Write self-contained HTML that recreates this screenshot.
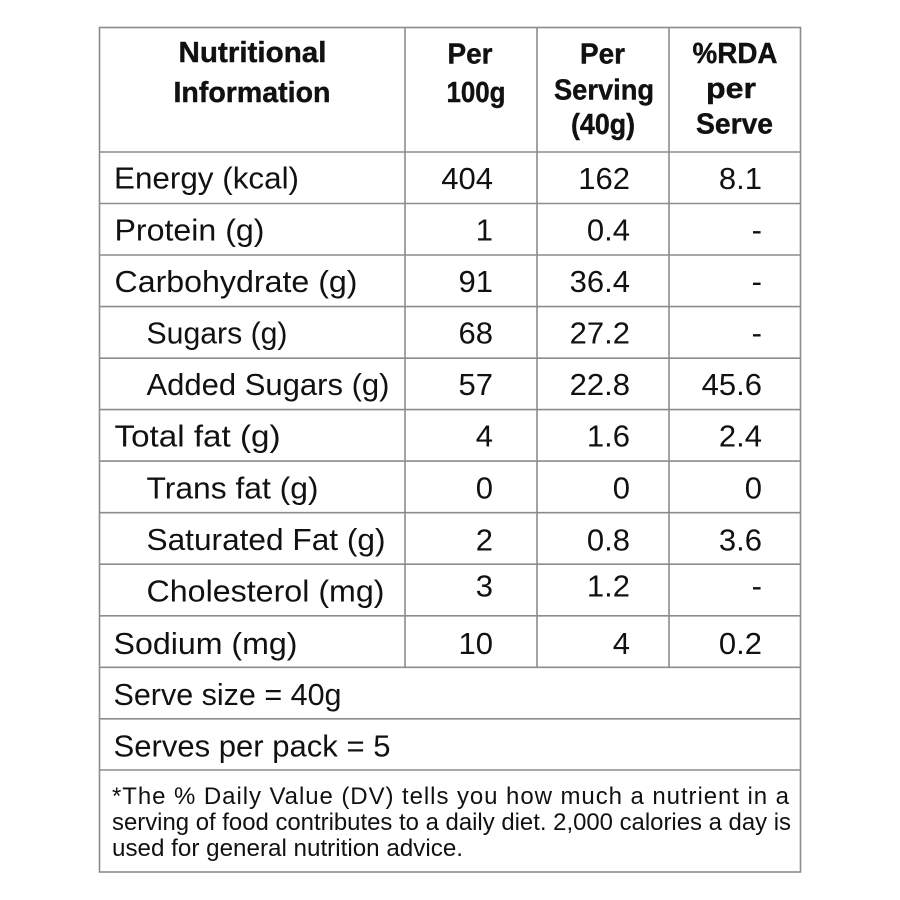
<!DOCTYPE html>
<html>
<head>
<meta charset="utf-8">
<style>
  html, body { margin: 0; padding: 0; background: #ffffff; }
  svg { display: block; }
  text { font-family: "Liberation Sans", sans-serif; fill: #111; }
  .b { font-size: 31px; }
  .h { font-size: 29px; font-weight: bold; stroke: #111; stroke-width: 0.4px; }
  .f { font-size: 24px; }
</style>
</head>
<body>
<svg width="900" height="900" viewBox="0 0 900 900" xmlns="http://www.w3.org/2000/svg">
  <rect x="0" y="0" width="900" height="900" fill="#ffffff"/>

  <!-- grid lines -->
  <g stroke="#8c8c8c" stroke-width="1.6" fill="none">
    <rect x="99.5" y="27.5" width="701" height="844.5"/>
    <line x1="405" y1="27.5" x2="405" y2="667.3"/>
    <line x1="537" y1="27.5" x2="537" y2="667.3"/>
    <line x1="669" y1="27.5" x2="669" y2="667.3"/>
    <line x1="99.5" y1="152" x2="800.5" y2="152"/>
    <line x1="99.5" y1="203.5" x2="800.5" y2="203.5"/>
    <line x1="99.5" y1="255" x2="800.5" y2="255"/>
    <line x1="99.5" y1="306.6" x2="800.5" y2="306.6"/>
    <line x1="99.5" y1="358.2" x2="800.5" y2="358.2"/>
    <line x1="99.5" y1="409.6" x2="800.5" y2="409.6"/>
    <line x1="99.5" y1="461.1" x2="800.5" y2="461.1"/>
    <line x1="99.5" y1="512.7" x2="800.5" y2="512.7"/>
    <line x1="99.5" y1="564.2" x2="800.5" y2="564.2"/>
    <line x1="99.5" y1="615.8" x2="800.5" y2="615.8"/>
    <line x1="99.5" y1="667.3" x2="800.5" y2="667.3"/>
    <line x1="99.5" y1="718.8" x2="800.5" y2="718.8"/>
    <line x1="99.5" y1="770" x2="800.5" y2="770"/>
  </g>

  <!-- header -->
  <text class="h" x="178.5" y="62" textLength="148" lengthAdjust="spacingAndGlyphs">Nutritional</text>
  <text class="h" x="173.5" y="102" textLength="157" lengthAdjust="spacingAndGlyphs">Information</text>

  <text class="h" x="447.5" y="63.5" textLength="45" lengthAdjust="spacingAndGlyphs">Per</text>
  <text class="h" x="446.5" y="102" textLength="59" lengthAdjust="spacingAndGlyphs">100g</text>

  <text class="h" x="580" y="63.5" textLength="45" lengthAdjust="spacingAndGlyphs">Per</text>
  <text class="h" x="554" y="99.5" textLength="100" lengthAdjust="spacingAndGlyphs">Serving</text>
  <text class="h" x="571" y="134" textLength="64" lengthAdjust="spacingAndGlyphs">(40g)</text>

  <text class="h" x="692.5" y="63" textLength="85" lengthAdjust="spacingAndGlyphs">%RDA</text>
  <text class="h" x="706" y="98" textLength="50" lengthAdjust="spacingAndGlyphs">per</text>
  <text class="h" x="696" y="133.5" textLength="77" lengthAdjust="spacingAndGlyphs">Serve</text>

  <!-- labels -->
  <text class="b" x="114" y="188.5" textLength="185" lengthAdjust="spacingAndGlyphs">Energy (kcal)</text>
  <text class="b" x="114.5" y="240.5" textLength="150" lengthAdjust="spacingAndGlyphs">Protein (g)</text>
  <text class="b" x="114.5" y="292" textLength="243" lengthAdjust="spacingAndGlyphs">Carbohydrate (g)</text>
  <text class="b" x="146.5" y="343.5" textLength="141" lengthAdjust="spacingAndGlyphs">Sugars (g)</text>
  <text class="b" x="146.5" y="395" textLength="243" lengthAdjust="spacingAndGlyphs">Added Sugars (g)</text>
  <text class="b" x="114.5" y="446.5" textLength="166" lengthAdjust="spacingAndGlyphs">Total fat (g)</text>
  <text class="b" x="146.5" y="498.5" textLength="172" lengthAdjust="spacingAndGlyphs">Trans fat (g)</text>
  <text class="b" x="146.5" y="550" textLength="239" lengthAdjust="spacingAndGlyphs">Saturated Fat (g)</text>
  <text class="b" x="146.5" y="601.5" textLength="238" lengthAdjust="spacingAndGlyphs">Cholesterol (mg)</text>
  <text class="b" x="113.5" y="654" textLength="184" lengthAdjust="spacingAndGlyphs">Sodium (mg)</text>
  <text class="b" x="113.5" y="705" textLength="228" lengthAdjust="spacingAndGlyphs">Serve size = 40g</text>
  <text class="b" x="113.5" y="756.5" textLength="277" lengthAdjust="spacingAndGlyphs">Serves per pack = 5</text>

  <!-- Per 100g column -->
  <g text-anchor="end">
    <text class="b" x="493" y="189">404</text>
    <text class="b" x="493" y="240.5">1</text>
    <text class="b" x="493" y="292">91</text>
    <text class="b" x="493" y="343.5">68</text>
    <text class="b" x="493" y="395">57</text>
    <text class="b" x="493" y="446.5">4</text>
    <text class="b" x="493" y="498.5">0</text>
    <text class="b" x="493" y="550.5">2</text>
    <text class="b" x="493" y="596.5">3</text>
    <text class="b" x="493" y="654">10</text>
  </g>

  <!-- Per serving column -->
  <g text-anchor="end">
    <text class="b" x="630" y="189">162</text>
    <text class="b" x="630" y="240.5">0.4</text>
    <text class="b" x="630" y="292">36.4</text>
    <text class="b" x="630" y="343.5">27.2</text>
    <text class="b" x="630" y="395">22.8</text>
    <text class="b" x="630" y="446.5">1.6</text>
    <text class="b" x="630" y="498.5">0</text>
    <text class="b" x="630" y="550.5">0.8</text>
    <text class="b" x="630" y="596.5">1.2</text>
    <text class="b" x="630" y="654">4</text>
  </g>

  <!-- %RDA column -->
  <g text-anchor="end">
    <text class="b" x="762" y="189">8.1</text>
    <text class="b" x="762" y="240.5">-</text>
    <text class="b" x="762" y="292">-</text>
    <text class="b" x="762" y="343.5">-</text>
    <text class="b" x="762" y="395">45.6</text>
    <text class="b" x="762" y="446.5">2.4</text>
    <text class="b" x="762" y="498.5">0</text>
    <text class="b" x="762" y="550.5">3.6</text>
    <text class="b" x="762" y="596.5">-</text>
    <text class="b" x="762" y="654">0.2</text>
  </g>

  <!-- footer -->
  <text class="f" x="112" y="804" textLength="677" lengthAdjust="spacing">*The % Daily Value (DV) tells you how much a nutrient in a</text>
  <text class="f" x="112" y="830" textLength="679" lengthAdjust="spacingAndGlyphs">serving of food contributes to a daily diet. 2,000 calories a day is</text>
  <text class="f" x="112" y="856" textLength="351" lengthAdjust="spacingAndGlyphs">used for general nutrition advice.</text>
</svg>
</body>
</html>
